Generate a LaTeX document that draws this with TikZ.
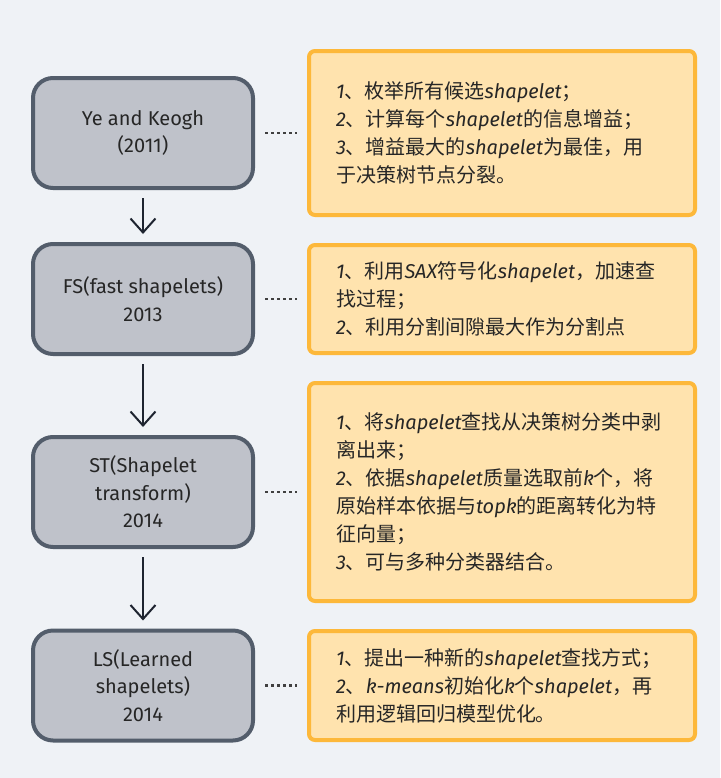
\documentclass[tikz,border=0pt]{standalone}
\usepackage{fontspec}
\setmainfont{Fira Sans}
\newfontfamily\cjk{Noto Sans CJK SC}
\usepackage{tikz}
\usetikzlibrary{arrows.meta, calc, positioning}

\definecolor{pagebg}{HTML}{EFF2F6}
\definecolor{yearfill}{HTML}{BFC2CA}
\definecolor{yearline}{HTML}{535D6B}
\definecolor{notefill}{HTML}{FFE3AE}
\definecolor{noteline}{HTML}{FDB83A}
\definecolor{arrowink}{HTML}{1E2430}

\newcommand{\zh}[1]{{\cjk #1}}
\newcommand{\shp}{\textit{shapelet}}

\begin{document}
\begin{tikzpicture}[x=0.5pt, y=-0.5pt,
		yearbox/.style={draw=yearline, line width=2pt, fill=yearfill, rounded corners=10pt,
			minimum width=110pt, minimum height=55pt, align=center, text=black!85,
			font=\fontsize{10}{13.8}\selectfont},
		notebox/.style={draw=noteline, line width=2pt, fill=notefill, rounded corners=3pt,
			inner xsep=13.5pt, text width=166pt, align=left, text=black!85,
			font=\fontsize{10}{14}\selectfont},
		flow/.style={-{Straight Barb[length=7pt, width=12.5pt]}, line width=1pt, draw=arrowink,
			shorten <=4pt, shorten >=4pt},
		link/.style={line width=1.2pt, draw=black!75, dash pattern=on 1.5pt off 1.5pt,
			shorten <=5pt, shorten >=5pt}]
	% Background
	\fill[pagebg] (0,0) rectangle (720,778);
	\useasboundingbox (0,0) rectangle (720,778);
	
	% Left column: the methods
	\node[yearbox] (ye) at (143,133) {Ye and Keogh\\(2011)};
	\node[yearbox] (fs) at (143,299) {FS(fast shapelets)\\2013};
	\node[yearbox] (st) at (143,492) {ST(Shapelet\\transform)\\2014};
	\node[yearbox] (ls) at (143,685.5) {LS(Learned\\shapelets)\\2014};
	
	% Right column: the notes
	\node[notebox, minimum height=82pt] (yeNote) at (502,133) {%
		\textit{1}\zh{、枚举所有候选}\shp\zh{；}\\
		\textit{2}\zh{、计算每个}\shp\zh{的信息增益；}\\
		\textit{3}\zh{、增益最大的}\shp\zh{为最佳，用}\\
		\zh{于决策树节点分裂。}};
	\node[notebox, minimum height=54pt] (fsNote) at (502,299) {%
		\textit{1}\zh{、利用}\textit{SAX}\zh{符号化}\shp\zh{，加速查}\\
		\zh{找过程；}\\
		\textit{2}\zh{、利用分割间隙最大作为分割点}};
	\node[notebox, minimum height=109pt] (stNote) at (502,492) {%
		\textit{1}\zh{、将}\shp\zh{查找从决策树分类中剥}\\
		\zh{离出来；}\\
		\textit{2}\zh{、依据}\shp\zh{质量选取前}\textit{k}\zh{个，将}\\
		\zh{原始样本依据与}\textit{topk}\zh{的距离转化为特}\\
		\zh{征向量；}\\
		\textit{3}\zh{、可与多种分类器结合。}};
	\node[notebox, minimum height=54.5pt] (lsNote) at (502,685.5) {%
		\textit{1}\zh{、提出一种新的}\shp\zh{查找方式；}\\
		\textit{2}\zh{、}\textit{k-means}\zh{初始化}\textit{k}\zh{个}\shp\zh{，再}\\
		\zh{利用逻辑回归模型优化。}};
	
	% Timeline arrows
	\draw[flow] (ye) -- (fs);
	\draw[flow] (fs) -- (st);
	\draw[flow] (st) -- (ls);
	
	% Dotted links to the notes
	\foreach \m in {ye, fs, st, ls}
		\draw[link] (\m.east) -- (\m Note.west);
\end{tikzpicture}
\end{document}
